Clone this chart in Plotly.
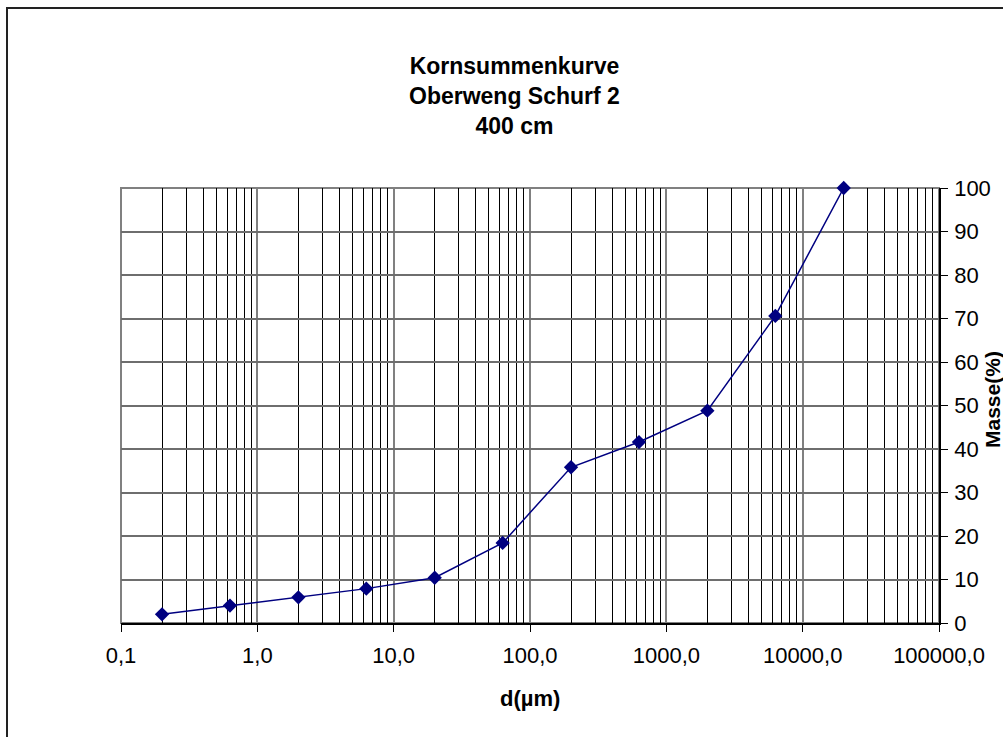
import plotly.graph_objects as go

# Data
d_um = [0.2, 0.63, 2.0, 6.3, 20.0, 63.0, 200.0, 630.0, 2000.0, 6300.0, 20000.0]
masse = [2.0, 4.0, 5.9, 7.9, 10.4, 18.4, 35.8, 41.6, 48.8, 70.6, 100.0]

x_tickvals = [0.1, 1, 10, 100, 1000, 10000, 100000]
x_ticktext = ["0,1", "1,0", "10,0", "100,0", "1000,0", "10000,0", "100000,0"]
x_minor = [k * 10.0 ** e for e in range(-1, 5) for k in range(2, 10)]
y_tickvals = list(range(0, 101, 10))

title_lines = ["Kornsummenkurve", "Oberweng Schurf 2", "400 cm"]
x_title = "d(µm)"
y_title = "Masse(%)"

FONT = "Liberation Sans, Arial, sans-serif"
NAVY = "#000080"

fig = go.Figure()
fig.add_trace(go.Scatter(
    x=d_um, y=masse, mode="lines+markers",
    line=dict(color=NAVY, width=1.5),
    marker=dict(symbol="diamond", size=11, color=NAVY),
    showlegend=False, cliponaxis=False,
))

L, R, T, B = 121, 64, 188, 114
W, H = 1003, 737
pw, ph = W - L - R, H - T - B

def px_x(x):
    return (x - L) / pw

def px_y(y):
    return (H - B - y) / ph

fig.update_layout(
    width=W, height=H,
    margin=dict(l=L, r=R, t=T, b=B, pad=0),
    paper_bgcolor="white", plot_bgcolor="rgba(0,0,0,0)",
    font=dict(family=FONT, size=22, color="black"),
    xaxis=dict(
        type="log", range=[-1, 5],
        tickvals=x_tickvals, ticktext=x_ticktext,
        ticks="outside", ticklen=7, tickcolor="black", tickwidth=1,
        ticklabelstandoff=5,
        showline=True, linecolor="black", linewidth=1.5,
        showgrid=True, gridcolor="#808080", gridwidth=1.5,
        minor=dict(tickvals=x_minor, showgrid=True, gridcolor="black",
                   gridwidth=1, ticks=""),
        tickfont=dict(size=22), zeroline=False,
    ),
    yaxis=dict(
        range=[0, 100], side="right",
        tickvals=y_tickvals,
        ticks="outside", ticklen=7, tickcolor="black", tickwidth=1,
        ticklabelstandoff=2,
        showline=True, linecolor="black", linewidth=1.5,
        showgrid=True, gridcolor="#6e6e6e", gridwidth=1.5,
        tickfont=dict(size=22), zeroline=False,
    ),
    annotations=[
        dict(text="<br>".join("<b>" + t + "</b>" for t in title_lines),
             xref="paper", yref="paper",
             x=px_x(514), y=px_y(96), xanchor="center", yanchor="middle",
             showarrow=False, font=dict(family=FONT, size=23, color="black")),
        dict(text="<b>" + x_title + "</b>", xref="paper", yref="paper",
             x=px_x(530), y=px_y(698), xanchor="center", yanchor="middle",
             showarrow=False, font=dict(family=FONT, size=22, color="black")),
        dict(text="<b>" + y_title + "</b>", xref="paper", yref="paper",
             x=px_x(992), y=px_y(400), xanchor="center", yanchor="middle",
             textangle=-90, showarrow=False,
             font=dict(family=FONT, size=21, color="black")),
    ],
    shapes=[
        dict(type="rect", xref="paper", yref="paper",
             x0=px_x(7), x1=px_x(1012), y0=px_y(746), y1=px_y(8),
             line=dict(color="#222222", width=2), fillcolor="rgba(0,0,0,0)",
             layer="below"),
        dict(type="rect", xref="paper", yref="paper",
             x0=0, x1=1, y0=0, y1=1,
             line=dict(color="#808080", width=2), fillcolor="rgba(0,0,0,0)",
             layer="below"),
    ],
)

fig.write_html("out.html",
               config={"displayModeBar": False},
               post_script="document.body.style.margin='0';document.body.style.overflow='hidden';")
